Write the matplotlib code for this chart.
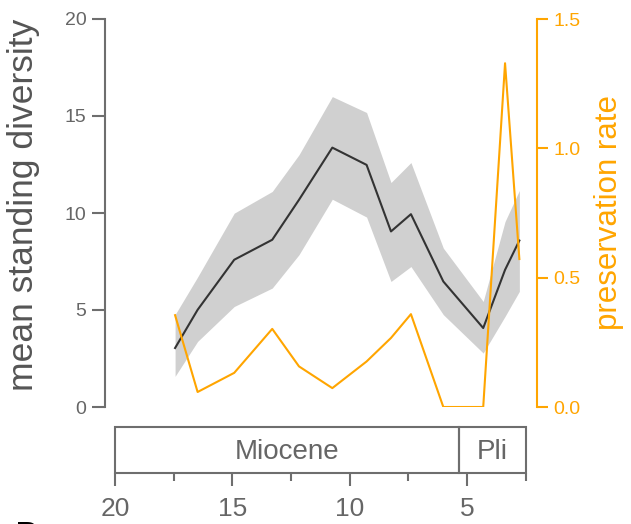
import matplotlib
matplotlib.use("Agg")
import matplotlib.pyplot as plt
import numpy as np

plt.rcParams["font.family"] = ["Liberation Sans", "DejaVu Sans"]

# ages (Ma) of the bins
ages = [17.44, 16.48, 14.92, 13.30, 12.16, 10.74, 9.28, 8.24, 7.39, 6.01, 4.31, 3.38, 2.77]
mean_div = [3.04, 5.01, 7.59, 8.62, 10.68, 13.37, 12.48, 9.05, 9.94, 6.47, 4.07, 7.07, 8.58]
upper_div = [4.76, 6.7, 9.99, 11.11, 13.0, 16.0, 15.18, 11.57, 12.6, 8.19, 5.44, 9.56, 11.16]
lower_div = [1.58, 3.38, 5.18, 6.13, 7.85, 10.71, 9.79, 6.47, 7.24, 4.76, 2.78, 4.67, 5.96]
pres_rate = [0.355, 0.058, 0.132, 0.302, 0.157, 0.073, 0.176, 0.267, 0.359, 0.0, 0.0, 1.329, 0.572]

epochs = ["Miocene", "Pli"]
epoch_bounds = [(20, 5.333), (5.333, 2.5)]

grey = "#6e6e6e"
orange = "#FFA500"

W, H = 631, 524
fig = plt.figure(figsize=(W / 100, H / 100), dpi=100)

def px(x0, y0, x1, y1):
    return [x0 / W, 1 - y1 / H, (x1 - x0) / W, (y1 - y0) / H]

ax = fig.add_axes(px(115, 19, 525.7, 407))
ax.fill_between(ages, lower_div, upper_div, color="#d0d0d0", lw=0)
ax.plot(ages, mean_div, color="#333333", lw=1.5)
ax.set_xlim(20, 2.5)
ax.set_ylim(0, 20)
ax.set_yticks([0, 5, 10, 15, 20])
for s in ["top", "right", "bottom"]:
    ax.spines[s].set_visible(False)
ax.spines["left"].set_position(("outward", 7))
ax.spines["left"].set_color(grey)
ax.spines["left"].set_linewidth(1.5)
ax.tick_params(axis="y", colors=grey, labelcolor="#666666", labelsize=14, length=9.5, width=1.5, pad=4)
ax.set_xticks([])
ax.set_ylabel("mean standing diversity", fontsize=25.5, color="#555555")
ax.yaxis.set_label_coords(-0.183, 0.52)
ax.patch.set_alpha(0)

ax2 = ax.twinx()
ax2.plot(ages, pres_rate, color=orange, lw=1.5)
ax2.set_ylim(0, 1.5)
ax2.set_yticks([0.0, 0.5, 1.0, 1.5])
ax2.set_yticklabels(["0.0", "0.5", "1.0", "1.5"])
for s in ["top", "left", "bottom"]:
    ax2.spines[s].set_visible(False)
ax2.spines["right"].set_position(("outward", 8))
ax2.spines["right"].set_color(orange)
ax2.spines["right"].set_linewidth(1.5)
ax2.tick_params(axis="y", colors=orange, labelcolor=orange, labelsize=14, length=8, width=1.5, pad=4)
ax2.set_ylabel("preservation rate", fontsize=22.5, color=orange, labelpad=10)

# geological time scale
ts = fig.add_axes(px(115, 427, 525.7, 473))
ts.set_xlim(20, 2.5)
ts.set_ylim(0, 1)
for name, (a, b) in zip(epochs, epoch_bounds):
    ts.add_patch(plt.Rectangle((b, 0), a - b, 1, fill=False, ec=grey, lw=1.5, clip_on=False))
    ts.text((a + b) / 2, 0.45, name, ha="center", va="center", fontsize=20, color="#666666")
for s in ts.spines.values():
    s.set_visible(False)
ts.set_yticks([])
ts.set_xticks([20, 15, 10, 5])
ts.set_xticks([17.5, 12.5, 7.5, 2.5], minor=True)
ts.tick_params(axis="x", which="major", colors=grey, labelcolor="#666666", labelsize=19, length=9.5, width=1.5, pad=8)
ts.tick_params(axis="x", which="minor", colors=grey, length=6, width=1.5)

# panel letter, cut off at bottom edge
fig.text(15 / W, -24 / H, "B", fontsize=26, color="black")

fig.savefig("out.png", dpi=100)
